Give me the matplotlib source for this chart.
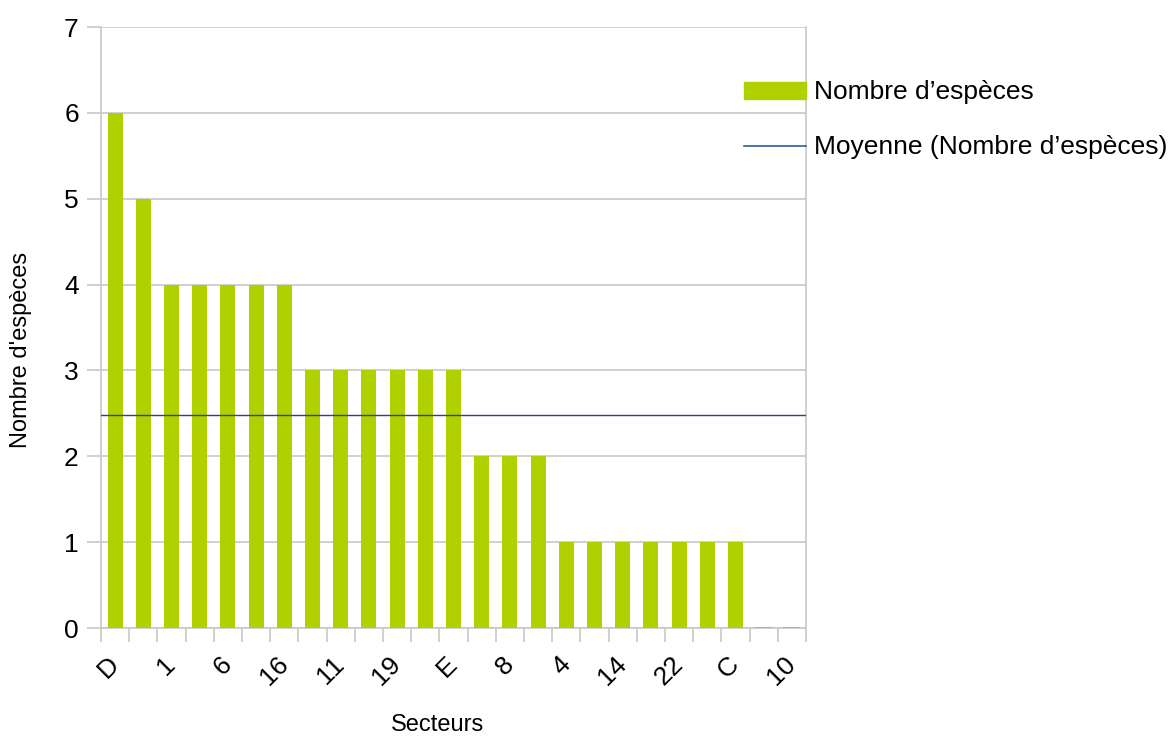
import matplotlib
matplotlib.use("Agg")
import matplotlib.pyplot as plt
import matplotlib.transforms as mtransforms
import numpy as np
from matplotlib.lines import Line2D
from matplotlib.patches import Patch

plt.rcParams["font.family"] = ["Liberation Sans", "DejaVu Sans"]

# sectors sorted by species count (odd-position labels are hidden in the source)
secteurs = ["D", "A", "1", "3", "6", "12", "16", "2", "11", "17", "19", "5", "E",
            "9", "8", "15", "4", "7", "14", "13", "22", "20", "C", "B", "10"]
nb_especes = [6, 5, 4, 4, 4, 4, 4, 3, 3, 3, 3, 3, 3, 2, 2, 2, 1, 1, 1, 1, 1, 1, 1, 0, 0]

GREEN = "#b0d000"
BLUE = "#1c4a7e"
GRID = "#c8c8c8"

moyenne = np.mean(nb_especes)
x = np.arange(len(secteurs))

fig = plt.figure(figsize=(11.73, 7.36), dpi=100)
ax = fig.add_axes([0.0861, 0.1467, 0.601, 0.8166])

ax.bar(x, nb_especes, width=0.53, color=GREEN, zorder=3)
# zero-valued bars still show a thin sliver in the source
for xi, v in zip(x, nb_especes):
    if v == 0:
        ax.plot([xi - 0.265, xi + 0.265], [0, 0], color=GREEN, lw=1.5, zorder=4)
ax.axhline(moyenne, color=BLUE, lw=1.0, zorder=4)

ax.set_xlim(-0.5, len(secteurs) - 0.5)
ax.set_ylim(0, 7)
ax.set_yticks(range(0, 8))
ax.grid(axis="y", color=GRID, lw=1.2, zorder=0)

# ticks between categories, labels every other category
ax.set_xticks(np.arange(-0.5, len(secteurs)), minor=False)
ax.set_xticklabels([])
ax.set_xticks(x[::2], minor=True)
ax.set_xticklabels(secteurs[::2], minor=True, rotation=45, ha="right",
                   va="center", rotation_mode="anchor", fontsize=19)
shift = mtransforms.ScaledTranslation(-2 / 100, 0, fig.dpi_scale_trans)
for lab in ax.get_xticklabels(minor=True):
    lab.set_transform(lab.get_transform() + shift)
ax.tick_params(axis="x", which="major", length=10, color=GRID, width=1.2)
ax.tick_params(axis="x", which="minor", length=0, pad=23.5)
ax.tick_params(axis="y", length=10, color=GRID, width=1.2, labelsize=19, pad=6)

for side in ["left", "right", "bottom"]:
    ax.spines[side].set_color(GRID)
    ax.spines[side].set_linewidth(1.2)
ax.spines["top"].set_visible(False)

ax.set_xlabel("Secteurs", fontsize=17)
ax.xaxis.set_label_coords(0.477, -0.143)
ax.set_ylabel("Nombre d'espèces", fontsize=17)
ax.yaxis.set_label_coords(-0.113, 0.4626)
ax.yaxis.label.set_va("center")

handles = [Patch(color=GREEN), Line2D([0], [0], color="#2a6099", lw=1.2)]
fig.legend(handles, ["Nombre d’espèces", "Moyenne (Nombre d’espèces)"],
           loc="upper left", bbox_to_anchor=(0.625, 0.905), frameon=False,
           fontsize=19, handlelength=2.35, handleheight=0.6, handletextpad=0.3,
           labelspacing=1.17, borderaxespad=0)

fig.savefig("out.png", dpi=100)
